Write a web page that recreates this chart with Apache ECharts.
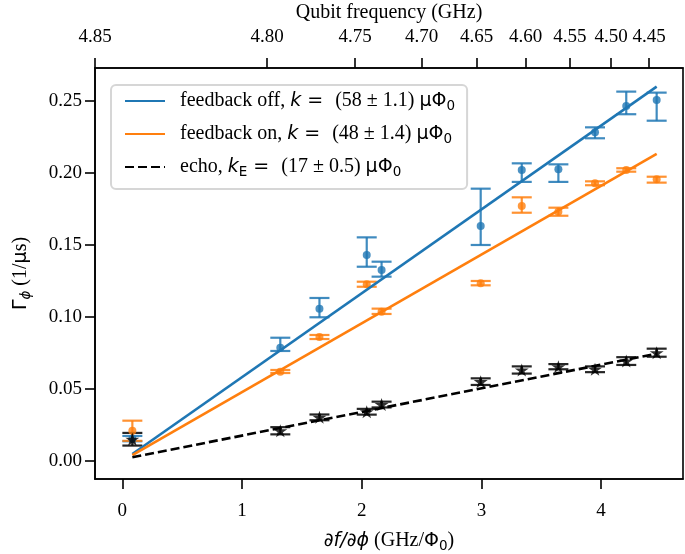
<!DOCTYPE html>
<html><head><meta charset="utf-8">
<script src="https://cdn.jsdelivr.net/npm/echarts@6/dist/echarts.min.js"></script>
<style>html,body{margin:0;padding:0;background:#fff}#c{width:685px;height:554px}</style>
</head><body><div id="c"></div>
<script>
// ---- data ----
const dfdphi = [0.084, 1.32, 1.647, 2.042, 2.166, 2.994, 3.337, 3.643, 3.949, 4.21, 4.464];

const offY  = [0.0155, 0.0787, 0.1058, 0.1431, 0.1326, 0.1632, 0.2021, 0.2026, 0.2283, 0.2465, 0.2507];
const offLo = [0.0137, 0.0764, 0.0998, 0.1349, 0.1280, 0.1500, 0.1938, 0.1938, 0.2241, 0.2408, 0.2363];
const offHi = [0.0174, 0.0856, 0.1132, 0.1553, 0.1384, 0.1891, 0.2067, 0.2060, 0.2317, 0.2565, 0.2558];

const onY  = [0.0210, 0.0620, 0.0861, 0.1227, 0.1037, 0.1234, 0.1771, 0.1731, 0.1928, 0.2021, 0.1956];
const onLo = [0.0140, 0.0611, 0.0847, 0.1210, 0.1021, 0.1220, 0.1724, 0.1703, 0.1915, 0.2009, 0.1933];
const onHi = [0.0280, 0.0632, 0.0875, 0.1245, 0.1058, 0.1250, 0.1831, 0.1759, 0.1942, 0.2033, 0.1974];

const echoY  = [0.0151, 0.0210, 0.0303, 0.0342, 0.0392, 0.0551, 0.0632, 0.0655, 0.0637, 0.0694, 0.0752];
const echoLo = [0.0107, 0.0185, 0.0283, 0.0322, 0.0372, 0.0528, 0.0607, 0.0637, 0.0617, 0.0667, 0.0724];
const echoHi = [0.0195, 0.0235, 0.0323, 0.0362, 0.0412, 0.0574, 0.0657, 0.0673, 0.0657, 0.0721, 0.0780];

const offFit  = [[0.084, 0.0049], [4.464, 0.2600]];
const onFit   = [[0.084, 0.0040], [4.464, 0.2132]];
const echoFit = [[0.084, 0.0026], [4.464, 0.0745]];

const xTicks = [0, 1, 2, 3, 4];
const yTicks = [0, 0.05, 0.10, 0.15, 0.20, 0.25];
const freqTickPos    = [-0.228, 1.209, 1.944, 2.501, 2.961, 3.370, 3.740, 4.083, 4.400];
const freqTickLabels = ['4.85', '4.80', '4.75', '4.70', '4.65', '4.60', '4.55', '4.50', '4.45'];

const legendNames = ['off', 'on', 'echo'];
// ---------------------------------------

const BLUE = '#1f77b4', ORANGE = '#ff7f0e', BLACK = '#000000';
const SERIF = 'Liberation Serif', SANS = 'DejaVu Sans';
const FS = 19;
const NFS = 20;
const LFS = 20;

const rich = {
  sp: { width: 10 },
  t: { fontFamily: SERIF, fontSize: NFS, color: '#000', lineHeight: 24 },
  m: { fontFamily: SANS, fontSize: NFS - 1, color: '#000', lineHeight: 24 },
  k: { fontFamily: SANS, fontStyle: 'italic', fontSize: NFS - 1, color: '#000', lineHeight: 24 },
  s: { fontFamily: SANS, fontSize: 13.5, color: '#000', lineHeight: 13, verticalAlign: 'bottom' },
  ks: { fontFamily: SANS, fontStyle: 'italic', fontSize: 13.5, color: '#000', lineHeight: 13, verticalAlign: 'bottom' }
};
const lrich = {
  sp: { width: 10 },
  t: { fontFamily: SERIF, fontSize: LFS, color: '#000', lineHeight: 24 },
  m: { fontFamily: SANS, fontSize: LFS - 1, color: '#000', lineHeight: 24 },
  k: { fontFamily: SANS, fontStyle: 'italic', fontSize: LFS - 1, color: '#000', lineHeight: 24 },
  s: { fontFamily: SANS, fontSize: 13.5, color: '#000', lineHeight: 13, verticalAlign: 'bottom' }
};

const legendText = {
  off:  '{sp|}{t|feedback off, }{k|k}{m| =  }{t|(58 ± 1.1) }{m|μΦ}{s|0}',
  on:   '{sp|}{t|feedback on, }{k|k}{m| =  }{t|(48 ± 1.4) }{m|μΦ}{s|0}',
  echo: '{sp|}{t|echo, }{k|k}{s|E}{m| =  }{t|(17 ± 0.5) }{m|μΦ}{s|0}'
};

function errRender(color) {
  return function (params, api) {
    const x = api.value(0), lo = api.value(1), hi = api.value(2);
    const a = api.coord([x, lo]), b = api.coord([x, hi]);
    const w = 10;
    const st = { stroke: color, lineWidth: 2.2 };
    return {
      type: 'group',
      children: [
        { type: 'line', shape: { x1: a[0], y1: a[1], x2: b[0], y2: b[1] }, style: st },
        { type: 'line', shape: { x1: a[0] - w, y1: a[1], x2: a[0] + w, y2: a[1] }, style: st },
        { type: 'line', shape: { x1: b[0] - w, y1: b[1], x2: b[0] + w, y2: b[1] }, style: st }
      ]
    };
  };
}

const STAR = 'path://M0,-1L0.2245,-0.309L0.951,-0.309L0.363,0.118L0.588,0.809L0,0.382L-0.588,0.809L-0.363,0.118L-0.951,-0.309L-0.2245,-0.309Z';

const axisCommon = {
  axisLine: { show: true, onZero: false, lineStyle: { color: '#000', width: 1.6 } },
  splitLine: { show: false }
};

const chart = echarts.init(document.getElementById('c'));
chart.setOption({
  animation: false,
  grid: { left: 95, right: 2, top: 68, bottom: 75, containLabel: false, outerBoundsMode: 'none', show: true, borderColor: '#000', borderWidth: 1.6, backgroundColor: 'transparent' },
  legend: {
    data: legendNames, orient: 'vertical', left: 111, top: 85,
    itemWidth: 40, itemHeight: 14, itemGap: 11,
    padding: [6, 12, 10, 13],
    backgroundColor: 'rgba(255,255,255,0.85)', borderColor: '#d6d6d6', borderWidth: 2, borderRadius: 5,
    selectedMode: false,
    itemStyle: { color: 'transparent', borderColor: 'transparent', borderWidth: 0, opacity: 0 },
    formatter: n => legendText[n],
    textStyle: { rich: lrich }
  },
  xAxis: [
    Object.assign({}, axisCommon, {
      type: 'value', position: 'bottom', min: -0.228, max: 4.684,
      axisTick: { show: true, customValues: xTicks, length: 10, lineStyle: { color: '#000', width: 1.6 } },
      axisLabel: { customValues: xTicks, formatter: v => String(Math.round(v)), fontFamily: SERIF, fontSize: FS, color: '#000', margin: 23 },
      name: '{k|∂f/∂ϕ}{t| (GHz/}{m|Φ}{s|0}{t|)}', nameLocation: 'middle', nameGap: 50,
      nameTextStyle: { rich: rich }
    }),
    Object.assign({}, axisCommon, {
      type: 'value', position: 'top', min: -0.228, max: 4.684,
      axisTick: { show: true, customValues: freqTickPos, length: 10, lineStyle: { color: '#000', width: 1.6 } },
      axisLabel: {
        customValues: freqTickPos,
        formatter: v => { for (let i = 0; i < freqTickPos.length; i++) if (Math.abs(freqTickPos[i] - v) < 1e-6) return freqTickLabels[i]; return ''; },
        fontFamily: SERIF, fontSize: FS, color: '#000', margin: 21
      },
      name: 'Qubit frequency (GHz)', nameLocation: 'middle', nameGap: 45,
      nameTextStyle: { fontFamily: SERIF, fontSize: NFS, color: '#000' }
    })
  ],
  yAxis: [
    Object.assign({}, axisCommon, {
      type: 'value', position: 'left', min: -0.0125, max: 0.2729,
      axisTick: { show: true, customValues: yTicks, length: 10, lineStyle: { color: '#000', width: 1.6 } },
      axisLabel: { customValues: yTicks, formatter: v => v.toFixed(2), fontFamily: SERIF, fontSize: FS, color: '#000', margin: 13 },
      name: '{m|Γ}{ks|ϕ}{t| (1/}{m|μ}{t|s)}', nameLocation: 'middle', nameGap: 62, nameRotate: 90,
      nameTextStyle: { rich: rich }
    })
  ],
  series: [
    { type: 'custom', name: 'offErr', renderItem: errRender('rgba(31,119,180,0.85)'), encode: { x: 0, y: [1, 2] }, data: dfdphi.map((x, i) => [x, offLo[i], offHi[i]]), z: 2, silent: true },
    { type: 'custom', name: 'onErr', renderItem: errRender('rgba(255,127,14,0.85)'), encode: { x: 0, y: [1, 2] }, data: dfdphi.map((x, i) => [x, onLo[i], onHi[i]]), z: 2, silent: true },
    { type: 'custom', name: 'echoErr', renderItem: errRender('rgba(0,0,0,0.85)'), encode: { x: 0, y: [1, 2] }, data: dfdphi.map((x, i) => [x, echoLo[i], echoHi[i]]), z: 2, silent: true },
    { type: 'scatter', name: 'offPts', data: dfdphi.map((x, i) => [x, offY[i]]), symbol: 'circle', symbolSize: 8, itemStyle: { color: BLUE }, z: 3, silent: true },
    { type: 'scatter', name: 'onPts', data: dfdphi.map((x, i) => [x, onY[i]]), symbol: 'circle', symbolSize: 8, itemStyle: { color: ORANGE }, z: 3, silent: true },
    { type: 'scatter', name: 'echoPts', data: dfdphi.map((x, i) => [x, echoY[i]]), symbol: STAR, symbolSize: [14, 13], itemStyle: { color: BLACK }, z: 3, silent: true },
    { type: 'line', name: 'off', data: offFit, symbol: 'none', showSymbol: false, lineStyle: { color: BLUE, width: 2.6 }, itemStyle: { color: BLUE }, z: 4, silent: true },
    { type: 'line', name: 'on', data: onFit, symbol: 'none', showSymbol: false, lineStyle: { color: ORANGE, width: 2.6 }, itemStyle: { color: ORANGE }, z: 4, silent: true },
    { type: 'line', name: 'echo', data: echoFit, symbol: 'none', showSymbol: false, lineStyle: { color: BLACK, width: 2.6, type: [9, 4] }, itemStyle: { color: BLACK }, z: 4, silent: true }
  ]
});
</script>
</body></html>
